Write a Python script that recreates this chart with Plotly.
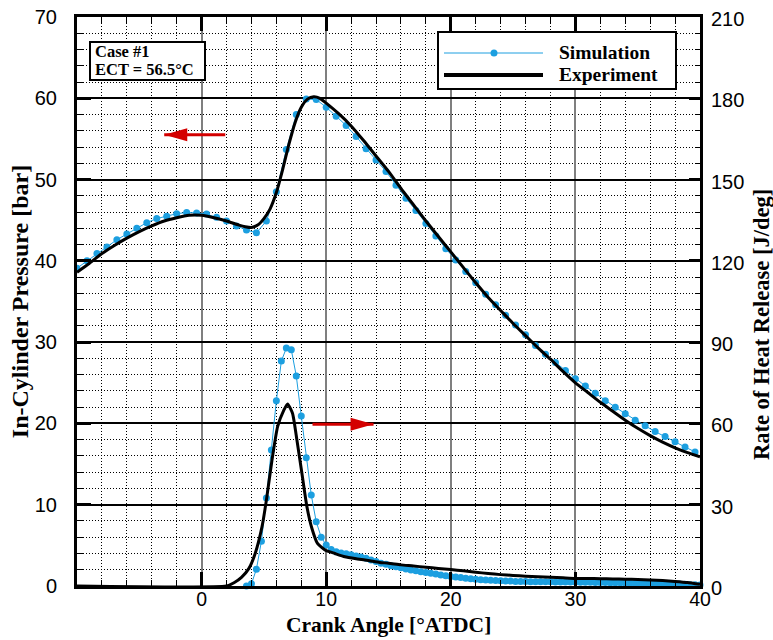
import numpy as np
import plotly.graph_objects as go

# ---------------- data ----------------
# Simulated in-cylinder pressure [bar], every 0.8 deg CA from -10
sim_p_x = list(np.round(np.arange(-10.0, 39.61, 0.8), 2))
sim_p_y = [39.1, 40.0, 40.9, 41.7, 42.6, 43.3, 44.0, 44.7, 45.2, 45.5,
           45.8, 45.95, 45.9, 45.75, 45.35, 44.9, 44.3, 43.8, 43.45, 44.9,
           48.5, 53.7, 58.0, 59.9, 59.85, 58.9, 57.8, 56.65, 55.3, 53.8,
           52.4, 51.0, 49.3, 47.7, 46.2, 44.6, 43.05, 41.5, 40.1, 38.7,
           37.3, 35.9, 34.6, 33.3, 32.1, 30.9, 29.6, 28.5, 27.5, 26.5,
           25.5, 24.6, 23.7, 22.8, 22.0, 21.2, 20.4, 19.7, 19.0, 18.4,
           17.75, 17.1, 16.5]

# Measured in-cylinder pressure [bar]
exp_p_x = [-10, -9, -8, -7, -6, -5, -4, -3, -2, -1, 0, 1, 2, 3, 3.5, 4, 4.5,
           5, 5.5, 6, 6.5, 7, 7.5, 8, 8.5, 9, 9.5, 10, 11, 12, 13, 14, 15,
           16, 17, 18, 19, 20, 21, 22, 23, 24, 25, 26, 27, 28, 29, 30, 31,
           32, 33, 34, 35, 36, 37, 38, 39, 40]
exp_p_y = [38.6, 39.7, 40.9, 41.9, 42.8, 43.6, 44.3, 44.9, 45.3, 45.6, 45.6,
           45.3, 44.9, 44.4, 44.2, 44.1, 44.4, 45.2, 46.4, 48.4, 51.2, 54.3,
           57.0, 58.9, 59.9, 60.2, 60.0, 59.4, 58.1, 56.6, 54.8, 52.9, 51.0,
           48.9, 46.9, 44.9, 43.0, 41.1, 39.2, 37.3, 35.5, 33.9, 32.3, 30.8,
           29.3, 27.9, 26.4, 25.0, 23.8, 22.6, 21.5, 20.4, 19.4, 18.5, 17.7,
           17.0, 16.4, 15.9]

# Simulated rate of heat release [J/deg], every 0.4 deg CA from -10
sim_hrr_x = list(np.round(np.arange(-10.0, 40.01, 0.4), 2))
sim_hrr_y = ([-0.5] * 23 + [None] * 11 +
             [0.0, 0.8, 6.2, 16.5, 32.5, 50.2, 68.4, 83.0, 87.8, 87.2,
              77.5, 62.7, 47.3, 33.6, 23.7, 18.0, 15.1, 13.5, 12.6, 12.2,
              11.9, 11.5, 11.1, 10.7, 10.2, 9.6, 9.0, 8.4, 8.0, 7.5,
              7.1, 6.7, 6.3, 5.9, 5.6, 5.3, 5.0, 4.7, 4.4, 4.1,
              3.8, 3.5, 3.3, 3.1, 2.9, 2.7, 2.5, 2.3, 2.2, 2.1,
              2.0, 1.9, 1.8, 1.8, 1.7, 1.7, 1.7, 1.6, 1.6, 1.6,
              1.6, 1.6, 1.5, 1.5, 1.5, 1.5, 1.5,
              1.4, 1.4, 1.4, 1.3, 1.3, 1.3, 1.2, 1.2, 1.2, 1.1,
              1.1, 1.0, 1.0, 1.0, 0.9, 0.9, 0.8, 0.8, 0.7, 0.7,
              0.6, 0.6, 0.5, 0.5, 0.4])

# Measured rate of heat release [J/deg]
exp_hrr_x = [-10, 2.0, 2.6, 3.2, 3.8, 4.3, 4.85, 5.2, 5.65, 6.1, 6.6, 6.9,
             7.3, 7.65, 8.05, 8.45, 8.85, 9.3, 9.9, 10.7, 11.5, 12.5, 13.5,
             14.3, 15, 16, 17, 18, 19, 20, 21, 22, 23, 24, 25, 26, 27, 28,
             29, 30, 31, 32, 33, 34, 35, 36, 37, 38, 39, 40]
exp_hrr_y = [0, 0, 1.2, 3.2, 6.5, 12.0, 21.9, 31.7, 46.5, 58.8, 64.9, 67.2,
             63.7, 53.9, 41.6, 29.3, 21.3, 15.7, 13.3, 12.0, 10.8, 10.0, 9.3,
             8.7, 8.4, 7.8, 7.4, 6.9, 6.5, 6.1, 5.6, 5.1, 4.6, 4.2, 3.9, 3.6,
             3.4, 3.2, 3.0, 2.8, 2.8, 2.7, 2.6, 2.5, 2.4, 2.2, 2.0, 1.7, 1.3,
             0.6]

x_ticks = [0, 10, 20, 30, 40]
series_names = ["Simulation", "Experiment"]
case_lines = ["Case #1", "ECT = 56.5°C"]
x_title = "Crank Angle [°ATDC]"
y_title = "In-Cylinder Pressure [bar]"
y2_title = "Rate of Heat Release [J/deg]"

# arrows: (tail x, head x, y in bar)
arrow_left = (1.9, -3.0, 55.5)
arrow_right = (8.9, 13.8, 19.9)

# ---------------- styling ----------------
BLUE = "#1c9fe0"
RED = "#d40000"
SERIF = "Liberation Serif"
SANS = "Liberation Sans"

W, H = 773, 640
PL, PR, PT, PB = 77, 700, 17, 586   # plot-area edges in pixels


def fx(xp):
    return (xp - PL) / (PR - PL)


def fy(yp):
    return (PB - yp) / (PB - PT)


def title_font(size):
    return dict(family=SERIF, size=size, color="black", weight="bold")


fig = go.Figure()

fig.add_trace(go.Scatter(x=sim_p_x, y=sim_p_y, mode="lines+markers",
                         line=dict(color=BLUE, width=1),
                         marker=dict(color=BLUE, size=7),
                         showlegend=False))
fig.add_trace(go.Scatter(x=sim_hrr_x, y=sim_hrr_y, xaxis="x2", yaxis="y2",
                         mode="lines+markers", connectgaps=False,
                         line=dict(color=BLUE, width=1),
                         marker=dict(color=BLUE, size=7),
                         cliponaxis=False, showlegend=False))
fig.add_trace(go.Scatter(x=exp_p_x, y=exp_p_y, mode="lines",
                         line=dict(color="black", width=3, shape="spline",
                                   smoothing=0.6),
                         showlegend=False))
fig.add_trace(go.Scatter(x=exp_hrr_x, y=exp_hrr_y, xaxis="x2", yaxis="y2",
                         mode="lines",
                         line=dict(color="black", width=3, shape="spline",
                                   smoothing=0.5),
                         showlegend=False))

minor_grid = dict(showgrid=True, gridcolor="black", gridwidth=1,
                  griddash="1px,2px", ticks="inside", ticklen=6,
                  tickwidth=1, tickcolor="black")
tick_font = dict(family=SANS, size=20, color="black")
x_tick_font = dict(family=SANS, size=19.5, color="black")

fig.update_layout(
    width=W, height=H,
    margin=dict(l=PL, r=W - PR, t=PT, b=H - PB, autoexpand=False),
    paper_bgcolor="white", plot_bgcolor="white",
    showlegend=False,
    xaxis=dict(range=[-10, 40], tickvals=x_ticks, ticks="inside",
               ticklen=14, tickwidth=3, tickcolor="black",
               showline=True, linewidth=3, linecolor="black", mirror=True,
               showgrid=True, gridcolor="#7f7f7f", gridwidth=2,
               zeroline=False, automargin=False,
               minor=dict(dtick=2, tick0=0, **minor_grid),
               ticklabelstandoff=-6, tickfont=x_tick_font),
    # top frame ticks, shared with the heat-release traces
    xaxis2=dict(range=[-10, 40], tickvals=x_ticks, overlaying="x",
                side="top", anchor="y2", ticks="inside", ticklen=14,
                tickwidth=3, tickcolor="black", showticklabels=False,
                showline=False, showgrid=False, zeroline=False,
                automargin=False,
                minor=dict(dtick=2, tick0=0, ticks="inside", ticklen=6,
                           tickwidth=1, tickcolor="black", showgrid=False)),
    yaxis=dict(range=[0, 70], dtick=10, ticks="inside", ticklen=14,
               tickwidth=3, tickcolor="black",
               showline=True, linewidth=3,
               linecolor="black", mirror=True,
               showgrid=True, gridcolor="black", gridwidth=1.5,
               zeroline=False, automargin=False,
               minor=dict(dtick=2, tick0=0, **minor_grid),
               ticklabelstandoff=13, tickfont=tick_font,
               title=dict(text=y_title, standoff=0,
                          font=title_font(24))),
    yaxis2=dict(range=[0, 210], dtick=30, overlaying="y", side="right",
                anchor="x2",
                ticks="inside", ticklen=11, tickwidth=3, tickcolor="black",
                showline=True, linewidth=3, linecolor="black",
                showgrid=False, zeroline=False, automargin=False,
                minor=dict(dtick=6, tick0=0, ticks="inside", ticklen=5,
                           tickwidth=1, tickcolor="black", showgrid=False),
                ticklabelstandoff=4, ticklabelshift=2,
                tickfont=tick_font),
)

shapes = []
annotations = []

# axis titles placed in pixel positions
annotations.append(dict(xref="paper", yref="paper", x=0.5, y=fy(624.5),
                        xanchor="center", yanchor="middle", text=x_title,
                        showarrow=False, borderpad=0,
                        font=title_font(21.5)))
annotations.append(dict(xref="paper", yref="paper", x=fx(761), y=fy(325),
                        xanchor="center", yanchor="middle", text=y2_title,
                        textangle=-90, showarrow=False, borderpad=0,
                        font=title_font(22.5)))

# red direction arrows: shaft plus triangular head
for tail, head, yv in (arrow_left, arrow_right):
    sign = 1 if head > tail else -1
    shapes.append(dict(type="line", xref="x", yref="y", x0=tail, x1=head,
                       y0=yv, y1=yv, line=dict(color=RED, width=3),
                       layer="above"))
    shapes.append(dict(type="path", xref="x", yref="y", xsizemode="pixel",
                       ysizemode="pixel", xanchor=head, yanchor=yv,
                       path=f"M0,0 L{-sign*23},6.5 L{-sign*23},-6.5 Z",
                       fillcolor=RED, line=dict(color=RED, width=0),
                       layer="above"))

# legend box
shapes.append(dict(type="rect", xref="paper", yref="paper",
                   x0=fx(438), x1=fx(676), y0=fy(89), y1=fy(32),
                   fillcolor="white", line=dict(color="black", width=2),
                   layer="above"))
shapes.append(dict(type="line", xref="paper", yref="paper",
                   x0=fx(444), x1=fx(543), y0=fy(53), y1=fy(53),
                   line=dict(color=BLUE, width=1), layer="above"))
shapes.append(dict(type="circle", xref="paper", yref="paper",
                   xsizemode="pixel", ysizemode="pixel",
                   xanchor=fx(494), yanchor=fy(53),
                   x0=-3.5, x1=3.5, y0=-3.5, y1=3.5,
                   fillcolor=BLUE, line=dict(color=BLUE, width=0),
                   layer="above"))
shapes.append(dict(type="line", xref="paper", yref="paper",
                   x0=fx(444), x1=fx(543), y0=fy(75), y1=fy(75),
                   line=dict(color="black", width=4), layer="above"))
for name, yp in zip(series_names, (52, 74)):
    annotations.append(dict(xref="paper", yref="paper", x=fx(558), y=fy(yp),
                            xanchor="left", yanchor="middle", text=name,
                            showarrow=False, borderpad=0,
                            font=title_font(19.5)))

# case box
shapes.append(dict(type="rect", xref="paper", yref="paper",
                   x0=fx(90), x1=fx(205), y0=fy(80), y1=fy(42),
                   fillcolor="white", line=dict(color="black", width=2),
                   layer="above"))
for line_text, yp in zip(case_lines, (51, 69.5)):
    annotations.append(dict(xref="paper", yref="paper", x=fx(94), y=fy(yp),
                            xanchor="left", yanchor="middle", text=line_text,
                            showarrow=False, borderpad=0,
                            font=title_font(16.5)))

fig.update_layout(shapes=shapes, annotations=annotations)

fig.write_html("out.html")
